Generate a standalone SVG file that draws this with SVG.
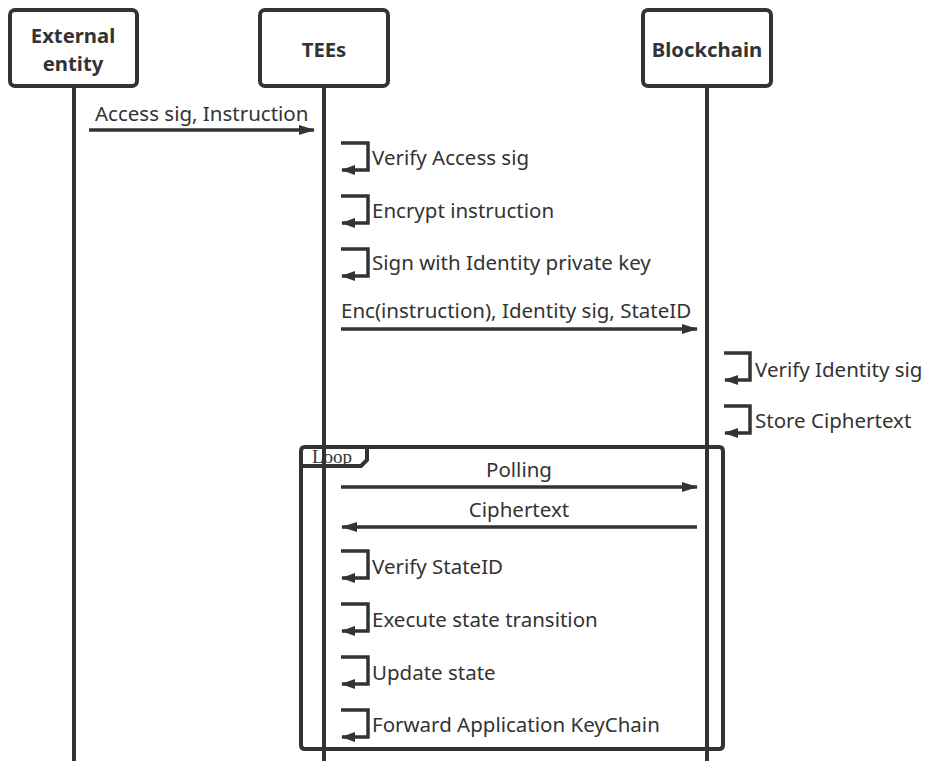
<svg xmlns="http://www.w3.org/2000/svg" width="925" height="761" viewBox="0 0 925 761">
<style>
.box{fill:#fff;stroke:#333;stroke-width:4}
.life{stroke:#333;stroke-width:4;fill:none}
.msg{stroke:#333;stroke-width:3.5;fill:none}
.self{stroke:#333;stroke-width:3.5;fill:none}
.t{font-family:"Noto Sans","Open Sans",sans-serif;font-size:20.5px;fill:#333}
.h{font-family:"Noto Sans","Open Sans",sans-serif;font-size:20.3px;font-weight:bold;fill:#333;text-anchor:middle}
.loop{fill:none;stroke:#333;stroke-width:4}
</style>
<defs>
<marker id="ah" viewBox="0 0 16 10" refX="15" refY="5" markerWidth="16" markerHeight="10" markerUnits="userSpaceOnUse" orient="auto">
<path d="M0,0 L16,5 L0,10 Z" fill="#333"/>
</marker>
<marker id="sh" viewBox="0 0 14 10" refX="13" refY="5" markerWidth="14" markerHeight="10" markerUnits="userSpaceOnUse" orient="auto">
<path d="M0,0 L14,5 L0,10 Z" fill="#333"/>
</marker>
</defs>
<g id="lifelines">
<line class="life" x1="74" y1="86" x2="74" y2="761"/>
<line class="life" x1="324" y1="86" x2="324" y2="761"/>
<line class="life" x1="707" y1="86" x2="707" y2="761"/>
</g>
<g id="external">
<rect class="box" x="10" y="10" width="127" height="76" rx="5"/>
<text class="h" x="73" y="43">External</text>
<text class="h" x="73" y="71">entity</text>
</g>
<g id="tees">
<rect class="box" x="260" y="10" width="128" height="76" rx="5"/>
<text class="h" x="324" y="57">TEEs</text>
</g>
<g id="blockchain">
<rect class="box" x="643" y="10" width="128" height="76" rx="5"/>
<text class="h" x="707" y="57">Blockchain</text>
</g>
<g id="loop">
<path class="loop" d="M305,447 H719 Q723,447 723,451 V745 Q723,749 719,749 H305 Q301,749 301,745 V451 Q301,447 305,447 Z"/>
<path class="loop" d="M301,466 H361 L367,460 V447"/>
<text x="312" y="463" font-family="Liberation Serif,serif" font-size="19" fill="#333">Loop</text>
</g>
<g id="connectors">
<line class="msg" x1="89" y1="130" x2="314" y2="130" marker-end="url(#ah)"/>
<text class="t" x="95" y="121">Access sig, Instruction</text>

<path class="self" d="M341,143 H368 V170 H342" marker-end="url(#sh)"/>
<text class="t" x="372" y="165">Verify Access sig</text>
<path class="self" d="M341,196 H368 V223 H342" marker-end="url(#sh)"/>
<text class="t" x="372" y="218">Encrypt instruction</text>
<path class="self" d="M341,249 H368 V276 H342" marker-end="url(#sh)"/>
<text class="t" x="372" y="270">Sign with Identity private key</text>

<line class="msg" x1="341" y1="329" x2="697" y2="329" marker-end="url(#ah)"/>
<text class="t" x="341" y="318">Enc(instruction), Identity sig, StateID</text>

<path class="self" d="M724,353 H750 V380 H725" marker-end="url(#sh)"/>
<text class="t" x="755" y="377">Verify Identity sig</text>
<path class="self" d="M724,406 H750 V433 H725" marker-end="url(#sh)"/>
<text class="t" x="755" y="428">Store Ciphertext</text>

<line class="msg" x1="341" y1="487" x2="697" y2="487" marker-end="url(#ah)"/>
<text class="t" x="519" y="477" text-anchor="middle">Polling</text>
<line class="msg" x1="697" y1="527" x2="342" y2="527" marker-end="url(#ah)"/>
<text class="t" x="519" y="517" text-anchor="middle">Ciphertext</text>

<path class="self" d="M341,551 H368 V578 H342" marker-end="url(#sh)"/>
<text class="t" x="372" y="574">Verify StateID</text>
<path class="self" d="M341,604 H368 V631 H342" marker-end="url(#sh)"/>
<text class="t" x="372" y="627">Execute state transition</text>
<path class="self" d="M341,657 H368 V684 H342" marker-end="url(#sh)"/>
<text class="t" x="372" y="680">Update state</text>
<path class="self" d="M341,710 H368 V737 H342" marker-end="url(#sh)"/>
<text class="t" x="372" y="732">Forward Application KeyChain</text>
</g>
</svg>
